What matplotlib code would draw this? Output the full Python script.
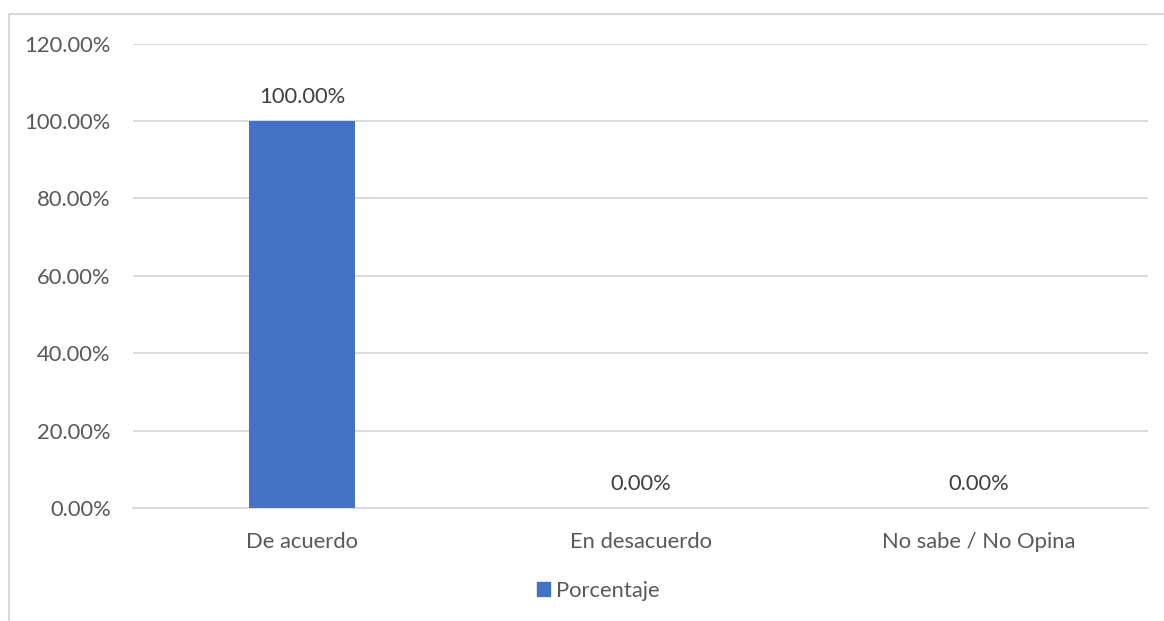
import matplotlib.pyplot as plt
from matplotlib.patches import Rectangle, Patch
from matplotlib.ticker import PercentFormatter

plt.rcParams['font.family'] = ['Lato', 'DejaVu Sans']

categories = ["De acuerdo", "En desacuerdo", "No sabe / No Opina"]
porcentaje = [1.00, 0.00, 0.00]
series_name = "Porcentaje"

text_color = "#595959"
bar_color = "#4472c4"
grid_color = "#d9d9d9"
fs = 15.8

fig = plt.figure(figsize=(11.64, 6.21), dpi=100)
ax = fig.add_axes([133 / 1164, 1 - 508 / 621, (1148 - 133) / 1164, (508 - 43.5) / 621])

x = range(len(categories))
bars = ax.bar(x, porcentaje, width=0.314, color=bar_color, zorder=3)

for xi, v in zip(x, porcentaje):
    ax.annotate(f"{v * 100:.2f}%", (xi, v), xytext=(0, 10), textcoords="offset points",
                ha="center", va="bottom", fontsize=fs, color="#404040")

ax.set_xlim(-0.5, len(categories) - 0.5)
ax.set_ylim(0, 1.2)
ax.set_yticks([0, 0.2, 0.4, 0.6, 0.8, 1.0, 1.2])
ax.yaxis.set_major_formatter(PercentFormatter(1.0, decimals=2))
ax.set_xticks(list(x))
ax.set_xticklabels(categories)
ax.tick_params(axis="y", length=0, pad=16, labelsize=fs, labelcolor=text_color)
ax.tick_params(axis="x", length=0, pad=17, labelsize=fs, labelcolor=text_color)
ax.grid(axis="y", color=grid_color, lw=1.3, zorder=0)
for s in ["top", "right", "left"]:
    ax.spines[s].set_visible(False)
ax.spines["bottom"].set_color(grid_color)
ax.spines["bottom"].set_linewidth(1.3)

fig.legend(handles=[Patch(color=bar_color, label=series_name)], loc="center left",
           bbox_to_anchor=(517 / 1164, 1 - 591 / 621), frameon=False, fontsize=fs,
           handlelength=0.6, handleheight=0.6, handletextpad=0.27, labelcolor=text_color)

fig.patches.append(Rectangle((9 / 1164, -0.1), 2, 1.1 - 14 / 621, transform=fig.transFigure,
                             fill=False, edgecolor=grid_color, lw=1.5))

fig.savefig("out.png", dpi=100)
